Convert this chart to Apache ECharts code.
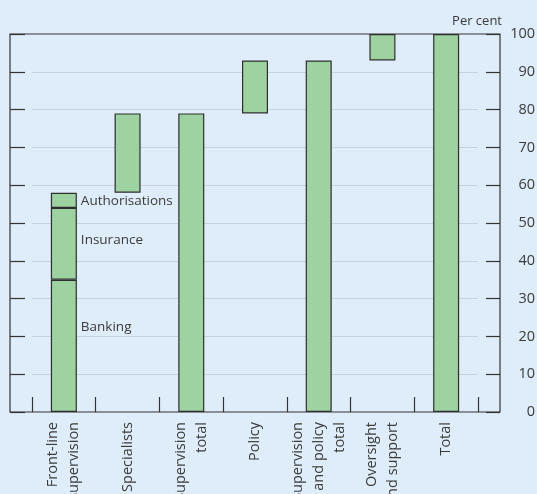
<!DOCTYPE html>
<html>
<head>
<meta charset="utf-8">
<script src="https://cdn.jsdelivr.net/npm/echarts@6/dist/echarts.min.js"></script>
<style>
html,body{margin:0;padding:0;background:#deedf9;}
#c{width:537px;height:494px;}
</style>
</head>
<body>
<div id="c"></div>
<script>
const categories = ['Front-line\nsupervision', 'Specialists', 'Supervision\ntotal', 'Policy', 'Supervision\nand policy\ntotal', 'Oversight\nand support', 'Total'];
const baseValues = [0, 58, 0, 79, 0, 93, 0];
const banking = [35, '-', '-', '-', '-', '-', '-'];
const insurance = [19, '-', '-', '-', '-', '-', '-'];
const authorisations = [4, '-', '-', '-', '-', '-', '-'];
const otherValues = ['-', 21, 79, 14, 93, 7, 100];
const yTicks = { min: 0, max: 100, interval: 10 };

const txt = '#3a3a3a';
const font = 'Open Sans';
const barStyle = { color: '#9dd3a0', borderColor: '#2e2e2e', borderWidth: 1.2 };

const chart = echarts.init(document.getElementById('c'));
chart.setOption({
  backgroundColor: '#deedf9',
  animation: false,
  textStyle: { fontFamily: font },
  grid: [
    { left: 10, right: 37, top: 34, bottom: 82, show: true, borderColor: '#333', borderWidth: 1.2, backgroundColor: 'transparent', outerBoundsMode: 'none', containLabel: false },
    { left: 32, right: 59, top: 34, bottom: 82, outerBoundsMode: 'none', containLabel: false }
  ],
  xAxis: [
    { gridIndex: 0, type: 'value', min: 0, max: 1, show: false },
    {
      gridIndex: 1, type: 'category', data: categories,
      axisLine: { show: false },
      axisTick: { show: true, inside: true, length: 15, lineStyle: { color: '#333', width: 1.2 } },
      axisLabel: { rotate: 90, interval: 0, margin: 10, fontSize: 14.5, lineHeight: 21, color: txt, fontFamily: font }
    }
  ],
  yAxis: [
    {
      gridIndex: 0, type: 'value', position: 'left', min: yTicks.min, max: yTicks.max, interval: yTicks.interval,
      axisLine: { show: false },
      axisTick: { show: true, inside: true, length: 15, lineStyle: { color: '#333', width: 1.2 } },
      axisLabel: { show: false }, splitLine: { show: false }
    },
    {
      gridIndex: 0, type: 'value', position: 'right', min: yTicks.min, max: yTicks.max, interval: yTicks.interval,
      name: 'Per cent', nameLocation: 'end', nameGap: 13,
      nameTextStyle: { align: 'right', verticalAlign: 'middle', color: txt, fontSize: 13, fontFamily: font, padding: [0, -2, 0, 0] },
      axisLine: { show: false },
      axisTick: { show: true, inside: true, length: 14, lineStyle: { color: '#333', width: 1.2 } },
      axisLabel: { show: true, margin: 35, align: 'right', fontSize: 14.5, color: txt, fontFamily: font },
      splitLine: { show: false }
    },
    {
      gridIndex: 1, type: 'value', min: yTicks.min, max: yTicks.max, interval: yTicks.interval,
      axisLine: { show: false }, axisTick: { show: false }, axisLabel: { show: false },
      splitLine: { show: true, showMinLine: false, showMaxLine: false, lineStyle: { color: '#c6d2dc', width: 1.2 } }
    }
  ],
  series: [
    { name: 'base', type: 'bar', xAxisIndex: 1, yAxisIndex: 2, stack: 's', barWidth: 26, data: baseValues,
      itemStyle: { color: 'transparent', borderWidth: 0 }, silent: true },
    { name: 'Banking', type: 'bar', xAxisIndex: 1, yAxisIndex: 2, stack: 's', barWidth: 26, data: banking, itemStyle: barStyle,
      label: { show: true, position: 'right', distance: 4, offset: [0, -19], formatter: '{a}', color: txt, fontSize: 13.5, fontFamily: font } },
    { name: 'Insurance', type: 'bar', xAxisIndex: 1, yAxisIndex: 2, stack: 's', barWidth: 26, data: insurance, itemStyle: barStyle,
      label: { show: true, position: 'right', distance: 4, offset: [0, -4], formatter: '{a}', color: txt, fontSize: 13.5, fontFamily: font } },
    { name: 'Authorisations', type: 'bar', xAxisIndex: 1, yAxisIndex: 2, stack: 's', barWidth: 26, data: authorisations, itemStyle: barStyle,
      label: { show: true, position: 'right', distance: 4, offset: [0, 1], formatter: '{a}', color: txt, fontSize: 13.5, fontFamily: font } },
    { name: 'Other', type: 'bar', xAxisIndex: 1, yAxisIndex: 2, stack: 's', barWidth: 26, data: otherValues, itemStyle: barStyle }
  ]
});
</script>
</body>
</html>
